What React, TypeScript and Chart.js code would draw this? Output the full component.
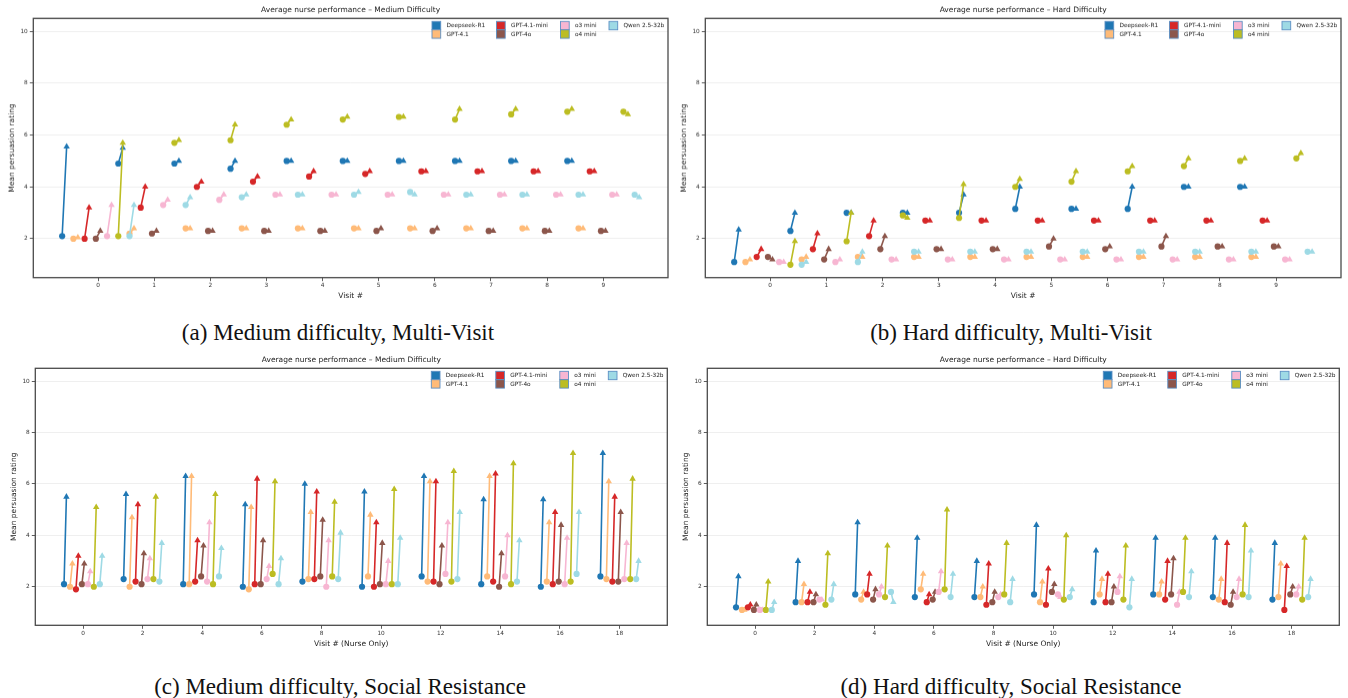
import { useEffect, useRef } from 'react';
import { Chart, registerables } from 'chart.js';

Chart.register(...registerables);

// models, colours (tab20 picks)
const models = ['Deepseek-R1', 'GPT-4.1', 'GPT-4.1-mini', 'GPT-4o', 'o3 mini', 'o4 mini', 'Qwen 2.5-32b'];
const modelColors = ['#1f77b4', '#ffbb78', '#d62728', '#8c564b', '#f7b6d2', '#bcbd22', '#9edae5'];

const multiVisits = [0, 1, 2, 3, 4, 5, 6, 7, 8, 9];
const nurseVisits = [0, 2, 4, 6, 8, 10, 12, 14, 16, 18];
const yTicks = [2, 4, 6, 8, 10];

// (a) medium, multi-visit: one row per model, one value per visit
const mvMediumStart = [
    [2.1, 4.9, 4.9, 4.7, 5.0, 5.0, 5.0, 5.0, 5.0, 5.0],
    [2.0, 2.2, 2.4, 2.4, 2.4, 2.4, 2.4, 2.4, 2.4, 2.4],
    [2.0, 3.2, 4.0, 4.2, 4.4, 4.5, 4.6, 4.6, 4.6, 4.6],
    [2.0, 2.2, 2.3, 2.3, 2.3, 2.3, 2.3, 2.3, 2.3, 2.3],
    [2.1, 3.3, 3.5, 3.7, 3.7, 3.7, 3.7, 3.7, 3.7, 3.7],
    [2.1, 5.7, 5.8, 6.4, 6.6, 6.7, 6.6, 6.8, 6.9, 6.9],
    [2.1, 3.3, 3.6, 3.7, 3.7, 3.8, 3.7, 3.7, 3.7, 3.7]
];
const mvMediumEnd = [
    [5.55, 5.5, 5.0, 5.0, 5.0, 5.0, 5.0, 5.0, 5.0, 5.0],
    [2.05, 2.4, 2.4, 2.4, 2.4, 2.4, 2.4, 2.4, 2.4, 2.4],
    [3.2, 4.0, 4.2, 4.4, 4.6, 4.6, 4.6, 4.6, 4.6, 4.6],
    [2.3, 2.3, 2.3, 2.3, 2.3, 2.4, 2.4, 2.3, 2.3, 2.3],
    [3.3, 3.5, 3.7, 3.7, 3.7, 3.7, 3.7, 3.7, 3.7, 3.7],
    [5.7, 5.8, 6.4, 6.6, 6.7, 6.7, 7.0, 7.0, 7.0, 6.8],
    [3.3, 3.6, 3.7, 3.7, 3.8, 3.7, 3.7, 3.7, 3.7, 3.6]
];

// (b) hard, multi-visit
const mvHardStart = [
    [1.1, 2.3, 3.0, 3.0, 3.0, 3.15, 3.15, 3.15, 4.0, 4.0],
    [1.1, 1.2, 1.3, 1.3, 1.3, 1.3, 1.3, 1.3, 1.3, 1.3],
    [1.3, 1.6, 2.1, 2.7, 2.7, 2.7, 2.7, 2.7, 2.7, 2.7],
    [1.3, 1.2, 1.6, 1.6, 1.6, 1.7, 1.6, 1.7, 1.7, 1.7],
    [1.1, 1.1, 1.2, 1.2, 1.2, 1.2, 1.2, 1.2, 1.2, 1.2],
    [1.0, 1.9, 2.9, 2.8, 4.0, 4.2, 4.6, 4.8, 5.0, 5.1],
    [1.0, 1.1, 1.5, 1.5, 1.5, 1.5, 1.5, 1.5, 1.5, 1.5]
];
const mvHardEnd = [
    [2.35, 3.0, 3.0, 3.0, 3.7, 4.0, 3.15, 4.0, 4.0, 4.0],
    [1.2, 1.3, 1.3, 1.3, 1.3, 1.3, 1.3, 1.3, 1.3, 1.3],
    [1.6, 2.2, 2.7, 2.7, 2.7, 2.7, 2.7, 2.7, 2.7, 2.7],
    [1.2, 1.6, 2.1, 1.6, 1.6, 2.0, 1.7, 2.1, 1.7, 1.7],
    [1.1, 1.2, 1.2, 1.2, 1.2, 1.2, 1.2, 1.2, 1.2, 1.2],
    [1.9, 3.0, 2.8, 4.1, 4.3, 4.6, 4.8, 5.1, 5.1, 5.3],
    [1.1, 1.5, 1.5, 1.5, 1.5, 1.5, 1.5, 1.5, 1.5, 1.5]
];

// (c) medium, social resistance
const srMediumStart = [
    [2.1, 2.3, 2.1, 2.0, 2.2, 2.0, 2.4, 2.1, 2.0, 2.4],
    [2.0, 2.0, 2.1, 1.9, 2.3, 2.4, 2.2, 2.4, 2.2, 2.3],
    [1.9, 2.2, 2.2, 2.1, 2.3, 2.0, 2.2, 2.2, 2.1, 2.2],
    [2.1, 2.1, 2.4, 2.1, 2.4, 2.1, 2.1, 2.0, 2.2, 2.2],
    [2.1, 2.3, 2.2, 2.3, 2.0, 2.1, 2.5, 2.4, 2.1, 2.3],
    [2.0, 2.3, 2.1, 2.5, 2.4, 2.1, 2.2, 2.1, 2.2, 2.3],
    [2.1, 2.2, 2.4, 2.1, 2.3, 2.1, 2.3, 2.2, 2.5, 2.3]
];
const srMediumEnd = [
    [5.5, 5.6, 6.3, 5.2, 6.0, 5.7, 6.3, 5.4, 5.4, 7.2],
    [2.9, 4.7, 6.3, 5.1, 4.9, 4.8, 6.1, 6.3, 4.5, 6.1],
    [3.2, 5.2, 3.8, 6.2, 5.7, 4.5, 6.1, 6.4, 4.9, 5.5],
    [2.9, 3.3, 3.6, 3.8, 4.6, 3.7, 3.6, 3.3, 4.4, 4.9],
    [2.6, 3.1, 4.5, 2.8, 3.8, 3.0, 4.5, 4.0, 3.9, 3.7],
    [5.1, 5.5, 5.6, 6.1, 5.3, 5.8, 6.5, 6.8, 7.2, 6.2],
    [3.2, 3.7, 3.5, 3.1, 4.1, 3.9, 4.9, 3.8, 4.9, 3.0]
];

// (d) hard, social resistance
const srHardStart = [
    [1.2, 1.4, 1.7, 1.6, 1.6, 1.7, 1.4, 1.7, 1.6, 1.5],
    [1.1, 1.4, 1.5, 1.9, 1.6, 1.4, 1.7, 1.7, 1.5, 1.6],
    [1.2, 1.4, 1.7, 1.4, 1.3, 1.3, 1.4, 1.5, 1.4, 1.1],
    [1.1, 1.4, 1.5, 1.5, 1.4, 1.8, 1.4, 1.7, 1.3, 1.7],
    [1.1, 1.5, 1.7, 1.8, 1.6, 1.7, 1.8, 1.3, 1.6, 1.7],
    [1.1, 1.3, 1.6, 1.9, 1.7, 1.5, 1.5, 1.8, 1.7, 1.5],
    [1.1, 1.5, 1.8, 1.6, 1.4, 1.6, 1.2, 1.6, 1.6, 1.6]
];
const srHardEnd = [
    [2.4, 3.0, 4.5, 3.9, 3.0, 4.4, 3.4, 3.9, 3.9, 3.7],
    [1.1, 2.1, 1.8, 2.5, 2.0, 2.2, 2.3, 2.2, 2.3, 2.9],
    [1.3, 1.8, 2.5, 1.7, 2.9, 2.7, 2.5, 3.0, 3.7, 2.8],
    [1.3, 1.7, 1.9, 1.8, 1.8, 2.1, 2.0, 3.1, 1.8, 2.0],
    [1.1, 1.5, 2.0, 2.6, 1.7, 1.6, 2.4, 1.8, 2.3, 2.0],
    [2.2, 3.3, 3.6, 5.0, 3.7, 4.0, 3.6, 3.9, 4.4, 3.9],
    [1.4, 2.1, 1.4, 2.5, 2.3, 1.9, 2.3, 2.6, 3.4, 2.3]
];

const FONT = '"DejaVu Sans", sans-serif';
const TEXT = '#222';
const SLOT = 0.2; // spacing between models inside a visit
const SLANT = 0.04; // arrow start/end x offset

// top-right legend, 4 columns x 2 rows, filled column by column
const legendCols = [-236, -171.5, -107.5, -59];

const decorPlugin = {
    id: 'decor',
    afterDraw(chart: any, _args: any, opts: any) {
        const { ctx, chartArea: a } = chart;
        ctx.save();
        ctx.strokeStyle = '#4a4a4a';
        ctx.lineWidth = 1.3;
        ctx.strokeRect(a.left, a.top, a.right - a.left, a.bottom - a.top);

        ctx.fillStyle = TEXT;
        ctx.font = `7.5px ${FONT}`;
        ctx.textAlign = 'center';
        ctx.textBaseline = 'middle';
        ctx.fillText(opts.title, (a.left + a.right) / 2, a.top - 8);

        ctx.font = `5.8px ${FONT}`;
        ctx.textAlign = 'left';
        models.forEach((m, k) => {
            const col = Math.floor(k / 2);
            const row = k % 2;
            const hx = a.right + legendCols[col];
            const hy = a.top + 3 + row * 8.4;
            ctx.fillStyle = modelColors[k];
            ctx.fillRect(hx, hy, 8.7, 8.4);
            ctx.strokeStyle = '#5b8fc4';
            ctx.lineWidth = 0.9;
            ctx.strokeRect(hx, hy, 8.7, 8.4);
            ctx.fillStyle = TEXT;
            ctx.fillText(m, hx + 14.5, hy + 4.3);
        });
        ctx.restore();
    }
};

type PanelProps = {
    left: number;
    top: number;
    width: number;
    plot: [number, number, number, number]; // left, top, right, bottom (page px)
    title: string;
    xLabel: string;
    visits: number[];
    start: number[][];
    end: number[][];
};

function ArrowPanel({ left, top, width, plot, title, xLabel, visits, start, end }: PanelProps) {
    const canvasRef = useRef<HTMLCanvasElement | null>(null);
    const xAxisH = 28;
    const height = plot[3] + xAxisH - top;
    const yAxisW = plot[0] - left;

    useEffect(() => {
        if (!canvasRef.current) return;
        const spread = 3 * SLOT + SLANT;
        const lo = visits[0] - spread;
        const hi = visits[visits.length - 1] + spread;
        const margin = (hi - lo) * 0.05;

        const datasets = models.map((m, i) => {
            const off = (i - 3) * SLOT;
            const pts: { x: number; y: number | null }[] = [];
            visits.forEach((v, j) => {
                pts.push({ x: v + off - SLANT, y: start[i][j] });
                pts.push({ x: v + off + SLANT, y: end[i][j] });
                pts.push({ x: v + off, y: null });
            });
            return {
                label: m,
                data: pts,
                borderColor: modelColors[i],
                backgroundColor: modelColors[i],
                borderWidth: 1.6,
                pointStyle: (c: any) => (c.dataIndex % 3 === 0 ? 'circle' : 'triangle'),
                pointRadius: (c: any) => (c.dataIndex % 3 === 0 ? 3.1 : 3.7),
                pointBorderWidth: 0,
                spanGaps: false,
                order: models.length - i
            };
        });

        const chart = new Chart(canvasRef.current, {
            type: 'line',
            data: { datasets },
            plugins: [decorPlugin],
            options: {
                animation: false,
                responsive: true,
                maintainAspectRatio: false,
                events: [],
                layout: { padding: { left: 0, top: plot[1] - top, right: left + width - plot[2], bottom: 0 } },
                plugins: {
                    legend: { display: false },
                    tooltip: { enabled: false },
                    decor: { title }
                } as any,
                scales: {
                    x: {
                        type: 'linear',
                        min: lo - margin,
                        max: hi + margin,
                        afterBuildTicks: (s: any) => {
                            s.ticks = visits.map((v) => ({ value: v }));
                        },
                        afterFit: (s: any) => {
                            s.height = xAxisH;
                        },
                        ticks: {
                            autoSkip: false,
                            maxRotation: 0,
                            padding: 1,
                            color: '#333',
                            font: { family: FONT, size: 5.8 },
                            callback: (v: any) => String(v)
                        },
                        grid: { display: true, drawOnChartArea: false, drawTicks: true, tickLength: 3.5, color: '#333', lineWidth: 0.8 },
                        border: { display: false },
                        title: {
                            display: true,
                            text: xLabel,
                            color: TEXT,
                            font: { family: FONT, size: 7.5 },
                            padding: { top: 0, bottom: 5.2 }
                        }
                    },
                    y: {
                        min: 0.5,
                        max: 10.5,
                        afterBuildTicks: (s: any) => {
                            s.ticks = yTicks.map((v) => ({ value: v }));
                        },
                        afterFit: (s: any) => {
                            s.width = yAxisW;
                        },
                        ticks: { padding: 2, color: '#333', font: { family: FONT, size: 5.8 } },
                        grid: { color: '#ebebeb', lineWidth: 0.8, drawTicks: true, tickLength: 3.5, tickColor: '#333', tickWidth: 0.8 } as any,
                        border: { display: false },
                        title: {
                            display: true,
                            text: 'Mean persuasion rating',
                            color: TEXT,
                            font: { family: FONT, size: 7.5 },
                            padding: { top: yAxisW - 21 - 4.5, bottom: 0 }
                        }
                    }
                }
            }
        } as any);
        return () => chart.destroy();
    }, []);

    return (
        <div style={{ position: 'absolute', left, top, width, height }}>
            <canvas ref={canvasRef} />
        </div>
    );
}

function Caption({ cx, baseline, text }: { cx: number; baseline: number; text: string }) {
    return (
        <div
            style={{
                position: 'absolute',
                left: cx - 300,
                top: baseline - 19.3,
                width: 600,
                textAlign: 'center',
                fontFamily: '"Liberation Serif", "Times New Roman", serif',
                fontSize: 23,
                lineHeight: '23px',
                color: '#111',
                whiteSpace: 'nowrap'
            }}
        >
            {text}
        </div>
    );
}

export default function App() {
    return (
        <div style={{ position: 'absolute', left: 0, top: 0, width: 1348, height: 698, background: '#fff', overflow: 'hidden' }}>
            <ArrowPanel
                left={0}
                top={0}
                width={672}
                plot={[33.3, 18.3, 668.3, 276.7]}
                title="Average nurse performance – Medium Difficulty"
                xLabel="Visit #"
                visits={multiVisits}
                start={mvMediumStart}
                end={mvMediumEnd}
            />
            <ArrowPanel
                left={672}
                top={0}
                width={676}
                plot={[705.3, 18.3, 1341, 276.7]}
                title="Average nurse performance – Hard Difficulty"
                xLabel="Visit #"
                visits={multiVisits}
                start={mvHardStart}
                end={mvHardEnd}
            />
            <ArrowPanel
                left={0}
                top={352}
                width={672}
                plot={[35.3, 368.3, 667.3, 625.3]}
                title="Average nurse performance – Medium Difficulty"
                xLabel="Visit # (Nurse Only)"
                visits={nurseVisits}
                start={srMediumStart}
                end={srMediumEnd}
            />
            <ArrowPanel
                left={672}
                top={352}
                width={676}
                plot={[707.3, 368.3, 1339.3, 625.3]}
                title="Average nurse performance – Hard Difficulty"
                xLabel="Visit # (Nurse Only)"
                visits={nurseVisits}
                start={srHardStart}
                end={srHardEnd}
            />
            <Caption cx={338} baseline={340} text="(a) Medium difficulty, Multi-Visit" />
            <Caption cx={1011} baseline={340} text="(b) Hard difficulty, Multi-Visit" />
            <Caption cx={340} baseline={694} text="(c) Medium difficulty, Social Resistance" />
            <Caption cx={1011} baseline={694} text="(d) Hard difficulty, Social Resistance" />
        </div>
    );
}
